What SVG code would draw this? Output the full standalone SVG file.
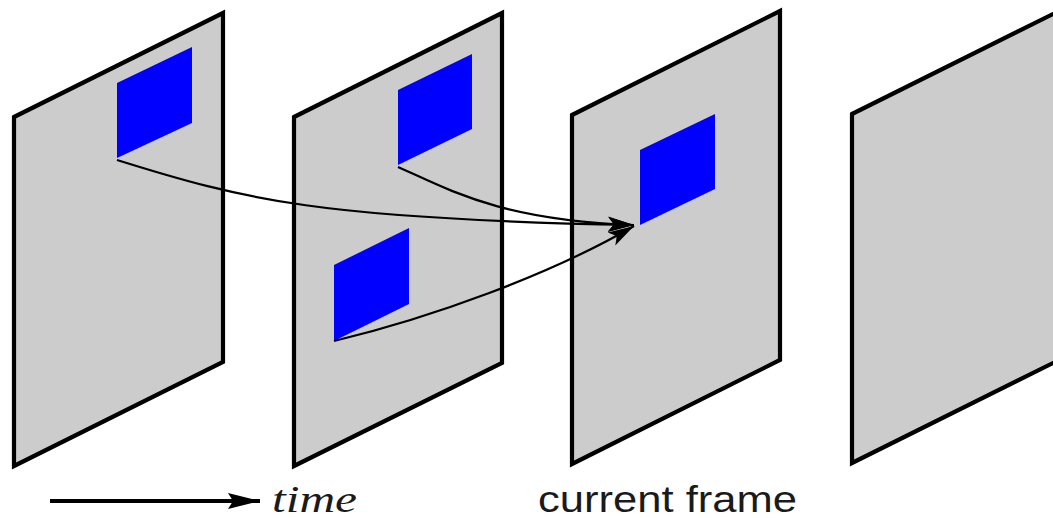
<svg xmlns="http://www.w3.org/2000/svg" width="1053" height="518" viewBox="0 0 1053 518">
<style>
.frame{fill:#cccccc;stroke:#000;stroke-width:4.2;stroke-linejoin:miter}
.patch{fill:#0000ff;stroke:none}
.conn{fill:none;stroke:#000;stroke-width:2.2}
.timeline{fill:none;stroke:#000;stroke-width:4}
.lbl{fill:#1a1a1a}
</style>
<defs>
<marker id="ah" markerUnits="userSpaceOnUse" markerWidth="30" markerHeight="20" viewBox="0 0 30 20" refX="26" refY="10" orient="auto">
<path d="M0,2.5 L26,10 L0,17.5 L6,10 Z" fill="#000"/>
</marker>
<marker id="ah2" markerUnits="userSpaceOnUse" markerWidth="34" markerHeight="20" viewBox="0 0 34 20" refX="32" refY="10" orient="auto">
<path d="M0,2 L32,10 L0,18 L5,10 Z" fill="#000"/>
</marker>
</defs>
<g id="frame1">
<polygon class="frame" points="14,117 223,13 223,362 14,466"/>
<polygon class="patch" points="117,83 192,47 192,123 117,158"/>
</g>
<g id="frame2">
<polygon class="frame" points="294,117 502,13 502,363 294,466"/>
<polygon class="patch" points="398,90 472,54 472,129 398,165"/>
<polygon class="patch" points="334,265 409,228 409,304 334,341"/>
</g>
<g id="frame3">
<polygon class="frame" points="572,115 780,11 780,360 572,464"/>
<polygon class="patch" points="640,150 715,114 715,189 640,225"/>
</g>
<g id="frame4">
<polygon class="frame" points="852,114 1063,9 1063,358 852,463"/>
</g>
<g id="connectors">
<path class="conn" d="M117,160 C245,200 320,219 634,225" marker-end="url(#ah)"/>
<path class="conn" d="M398,167 C450,190 500,220 634,225" marker-end="url(#ah)"/>
<path class="conn" d="M334,341 C430,318 550,275 634,226" marker-end="url(#ah)"/>
<path class="timeline" d="M50,501 L260,501" marker-end="url(#ah2)"/>
</g>
<text class="lbl" x="272" y="512" font-family="'Liberation Serif', serif" font-style="italic" font-size="38" textLength="85" lengthAdjust="spacingAndGlyphs">time</text>
<text class="lbl" x="538" y="512" font-family="'Liberation Sans', sans-serif" font-size="36" textLength="259" lengthAdjust="spacingAndGlyphs">current frame</text>
</svg>
